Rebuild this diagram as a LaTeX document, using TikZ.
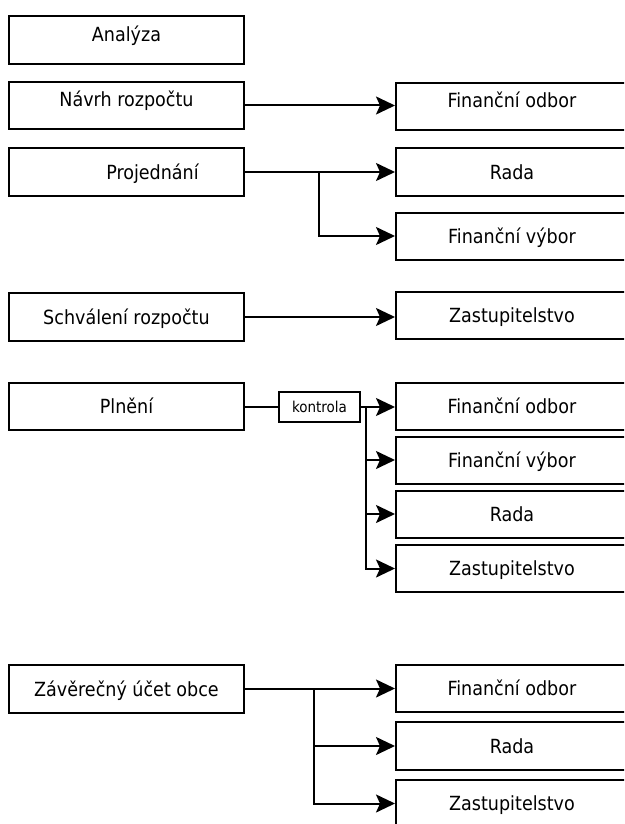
\documentclass[tikz,border=0pt]{standalone}
\usepackage{fontspec}
\setmainfont{DejaVu Sans Condensed}
\usetikzlibrary{arrows.meta}

\begin{document}
\begin{tikzpicture}[x=1pt,y=-1pt,
  box/.style={draw=black, line width=2pt, fill=white, inner sep=0pt,
    minimum height=47pt, text height=14pt, text depth=0pt,
    font=\fontsize{19.5}{23}\selectfont},
  leftbox/.style={box, minimum width=235pt},
  rightbox/.style={box, minimum width=232pt},
  lift/.style={text depth=#1},
  smallbox/.style={draw=black, line width=2pt, fill=white, inner sep=0pt,
    minimum width=81pt, minimum height=30pt, text height=10.8pt, text depth=0pt,
    font=\fontsize{15}{18}\selectfont},
  link/.style={line width=2pt, draw=black},
  flow/.style={link, -{Stealth[length=19pt, width=18pt, inset=4pt]}}]

\useasboundingbox (0,0) rectangle (624,824);
\clip (0,0) rectangle (624,824);

% process steps
\node[leftbox, minimum height=48pt, lift=10pt] (ana)   at (126.5,40)    {Analýza};
\node[leftbox, lift=11pt]  (navrh) at (126.5,105.5) {Návrh rozpočtu};
\node[leftbox, minimum height=48pt] (proj) at (126.5,172) {\hspace*{52pt}Projednání};
\node[leftbox, minimum height=48pt] (schv) at (126.5,317) {Schválení rozpočtu};
\node[leftbox] (plneni) at (126.5,406.5) {Plnění};
\node[leftbox, minimum height=48pt] (zav) at (126.5,689) {Závěrečný účet obce};

% bodies involved
\node[rightbox, lift=12pt] (fo1)  at (512,106.5) {Finanční odbor};
\node[rightbox, minimum height=48pt] (rada1) at (512,172) {Rada};
\node[rightbox] (fv1)   at (512,236)   {Finanční výbor};
\node[rightbox] (zast1) at (512,315.5) {Zastupitelstvo};

\node[rightbox] (fo2)   at (512,406)   {Finanční odbor};
\node[rightbox] (fv2)   at (512,460)   {Finanční výbor};
\node[rightbox] (rada2) at (512,514)   {Rada};
\node[rightbox] (zast2) at (512,568.5) {Zastupitelstvo};

\node[rightbox] (fo3)   at (512,688.5) {Finanční odbor};
\node[rightbox, minimum height=48pt] (rada3) at (512,746) {Rada};
\node[rightbox] (zast3) at (512,803.5) {Zastupitelstvo};

\node[smallbox] (kontrola) at (319.5,407) {kontrola};

% branch points
\coordinate (bproj) at (319,172);
\coordinate (bplneni) at (366,407);
\coordinate (bzav) at (314,688.5);

% connectors
\draw[flow] (navrh.east) -- (navrh.east -| fo1.west);

\draw[flow] (proj.east) -- (rada1.west);
\draw[flow] (bproj) |- (fv1.west);

\draw[flow] (schv.east) -- (schv.east -| zast1.west);

\draw[link] (plneni.east |- kontrola.west) -- (kontrola.west);
\draw[flow] (kontrola.east) -- (kontrola.east -| fo2.west);
\draw[flow] (bplneni) |- (fv2.west);
\draw[flow] (bplneni) |- (rada2.west);
\draw[flow] (bplneni) |- (zast2.west);

\draw[flow] (zav.east |- fo3.west) -- (fo3.west);
\draw[flow] (bzav) |- (rada3.west);
\draw[flow] (bzav) |- (zast3.west);
\end{tikzpicture}
\end{document}
